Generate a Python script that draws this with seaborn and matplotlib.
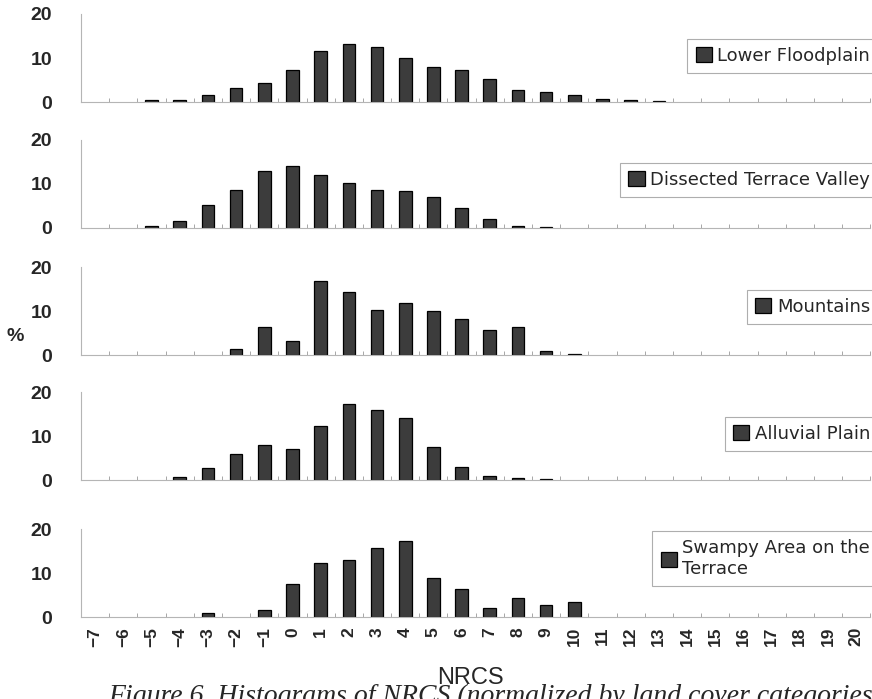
"""Stacked NRCS histograms by land-cover category (scanned paper figure)."""

import matplotlib
matplotlib.use("Agg")

import matplotlib.pyplot as plt
import numpy as np
import pandas as pd
import seaborn as sns
from matplotlib.patches import Patch
from matplotlib.ticker import FixedLocator

# ── data ────────────────────────────────────────────────────────────────
nrcs_bins = list(range(-7, 21))

lower_floodplain = [0, 0, 0.5, 0.5, 1.6, 3.2, 4.4, 7.2, 11.5, 13.1, 12.6, 10.1, 8.0,
                    7.3, 5.2, 2.8, 2.3, 1.5, 0.8, 0.4, 0.2, 0, 0, 0, 0, 0, 0, 0]
dissected_valley = [0, 0, 0.4, 1.6, 5.3, 8.5, 12.9, 14.1, 12.1, 10.3, 8.7, 8.3, 7.0,
                    4.4, 2.0, 0.5, 0.2, 0, 0, 0, 0, 0, 0, 0, 0, 0, 0, 0]
mountains = [0, 0, 0, 0, 0, 1.3, 6.4, 3.2, 16.8, 14.3, 10.2, 11.9, 10.1,
             8.1, 5.6, 6.4, 0.9, 0.3, 0, 0, 0, 0, 0, 0, 0, 0, 0, 0]
alluvial_plain = [0, 0, 0, 0.8, 2.7, 6.0, 8.0, 7.1, 12.4, 17.2, 15.9, 14.2, 7.6,
                  2.9, 1.0, 0.6, 0.3, 0, 0, 0, 0, 0, 0, 0, 0, 0, 0, 0]
swampy_terrace = [0, 0, 0, 0, 0.9, 0, 1.7, 7.5, 12.2, 13.0, 15.7, 17.4, 8.8,
                  6.4, 2.1, 4.4, 2.8, 3.5, 0, 0, 0, 0, 0, 0, 0, 0, 0, 0]

panel_names = ["Lower Floodplain", "Dissected Terrace Valley", "Mountains",
               "Alluvial Plain", "Swampy Area on the\nTerrace"]
panel_values = [lower_floodplain, dissected_valley, mountains,
                alluvial_plain, swampy_terrace]

# ── style ───────────────────────────────────────────────────────────────
sns.set_style("white")
plt.rcParams["font.family"] = ["Liberation Sans", "DejaVu Sans"]

BAR_COLOR = "#3c3c3c"
SPINE_COLOR = "#b5b5b5"

fig = plt.figure(figsize=(8.72, 6.99), dpi=100)

left, width, height = 0.093, 0.905, 0.126
bottoms = [0.854, 0.674, 0.492, 0.313, 0.117]
legend_tops = [0.72, 0.74, 0.74, 0.72, 0.98]

labels = [str(v) for v in nrcs_bins]
tick_text = [s.replace("-", "\u2212") for s in labels]

for i, (name, vals) in enumerate(zip(panel_names, panel_values)):
    ax = fig.add_axes([left, bottoms[i], width, height])
    # empty bins are not drawn in the original
    df = pd.DataFrame({"nrcs": labels, "pct": vals}).replace(0, np.nan)
    sns.barplot(data=df, x="nrcs", y="pct", order=labels, color=BAR_COLOR,
                edgecolor="black", linewidth=0.9, width=0.45, saturation=1,
                ax=ax)

    ax.set_xlim(-0.5, len(labels) - 0.5)
    ax.set_ylim(0, 20)
    ax.set_yticks([0, 10, 20])
    ax.set_yticklabels(["0", "10", "20"], fontsize=14, fontweight="bold")
    ax.set_xlabel("")
    ax.set_ylabel("")

    for side in ("top", "right"):
        ax.spines[side].set_visible(False)
    for side in ("left", "bottom"):
        ax.spines[side].set_color(SPINE_COLOR)
        ax.spines[side].set_linewidth(0.8)

    ax.tick_params(axis="y", length=3, width=0.6, color=SPINE_COLOR, pad=18)
    ax.xaxis.set_minor_locator(FixedLocator(np.arange(-0.5, len(labels), 1.0)))
    ax.tick_params(axis="x", which="minor", direction="in", length=3,
                   width=0.6, color="#999999", bottom=True)
    if i < 4:
        ax.tick_params(axis="x", which="major", length=0, labelbottom=False)
    else:
        ax.tick_params(axis="x", which="major", length=0, pad=7)
        ax.set_xticks(range(len(labels)))
        ax.set_xticklabels(tick_text, rotation=90, fontsize=12.5, fontweight="bold")

    handle = Patch(facecolor=BAR_COLOR, edgecolor="black", linewidth=0.9)
    leg = ax.legend([handle], [name], loc="upper right",
                    bbox_to_anchor=(1.01, legend_tops[i]), frameon=True,
                    fancybox=False, fontsize=13, handlelength=0.9,
                    handleheight=0.9, handletextpad=0.3, borderpad=0.45,
                    borderaxespad=0)
    leg.get_frame().set_edgecolor("#9a9a9a")
    leg.get_frame().set_linewidth(0.8)
    for t in leg.get_texts():
        t.set_family(["DejaVu Sans"])

fig.text(0.008, 0.518, "%", fontsize=14, fontweight="bold", va="center")
fig.text(0.54, 0.03, "NRCS", fontsize=17, ha="center", va="center")
fig.text(0.124, 0.022, "Figure 6. Histograms of NRCS (normalized by land cover categories in each",
         fontsize=20, family=["Liberation Serif", "DejaVu Serif"],
         style="italic", va="top", ha="left")

fig.savefig("out.png", dpi=100)
plt.close(fig)
